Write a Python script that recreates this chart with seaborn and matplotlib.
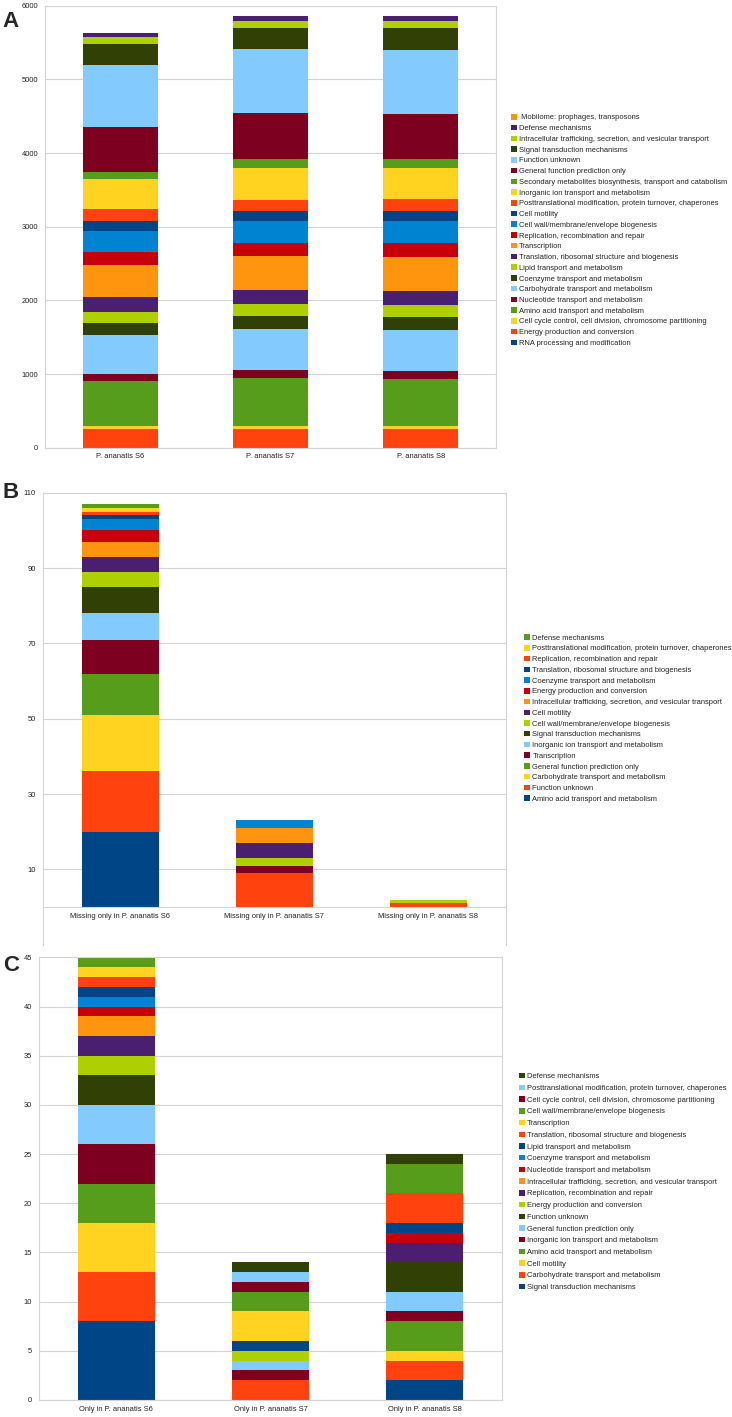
import numpy as np
import seaborn as sns
import matplotlib
import matplotlib.pyplot as plt
from matplotlib.patches import Patch

matplotlib.use('Agg')
sns.set_style("white")
plt.rcParams['font.family'] = ['Liberation Sans', 'DejaVu Sans']

# LibreOffice default chart palette
palette = ["#004586", "#ff420e", "#ffd320", "#579d1c", "#7e0021", "#83caff",
           "#314004", "#aecf00", "#4b1f6f", "#ff950e", "#c5000b", "#0084d1"]

# ---- panel A: all COG categories (bottom to top) ----
a_samples = ["P. ananatis S6", "P. ananatis S7", "P. ananatis S8"]
a_cats = ["RNA processing and modification",
          "Energy production and conversion",
          "Cell cycle control, cell division, chromosome partitioning",
          "Amino acid transport and metabolism",
          "Nucleotide transport and metabolism",
          "Carbohydrate transport and metabolism",
          "Coenzyme transport and metabolism",
          "Lipid transport and metabolism",
          "Translation, ribosomal structure and biogenesis",
          "Transcription",
          "Replication, recombination and repair",
          "Cell wall/membrane/envelope biogenesis",
          "Cell motility",
          "Posttranslational modification, protein turnover, chaperones",
          "Inorganic ion transport and metabolism",
          "Secondary metabolites biosynthesis, transport and catabolism",
          "General function prediction only",
          "Function unknown",
          "Signal transduction mechanisms",
          "Intracellular trafficking, secretion, and vesicular transport",
          "Defense mechanisms",
          " Mobilome: prophages, transposons"]
a_s6 = [1, 258, 36, 611, 100, 530, 163, 149, 195, 434, 181, 290, 135, 154, 412, 100, 601, 847, 276, 104, 56, 2]
a_s7 = [1, 258, 36, 652, 104, 561, 172, 167, 190, 457, 186, 298, 132, 154, 429, 118, 624, 869, 285, 100, 60, 2]
a_s8 = [1, 258, 36, 643, 104, 556, 172, 163, 195, 466, 185, 299, 140, 159, 416, 122, 615, 869, 294, 104, 60, 2]

# ---- panel B: missing only in one strain ----
b_samples = ["Missing only in P. ananatis S6", "Missing only in P. ananatis S7",
             "Missing only in P. ananatis S8"]
b_cats = ["Amino acid transport and metabolism",
          "Function unknown",
          "Carbohydrate transport and metabolism",
          "General function prediction only",
          "Transcription",
          "Inorganic ion transport and metabolism",
          "Signal transduction mechanisms",
          "Cell wall/membrane/envelope biogenesis",
          "Cell motility",
          "Intracellular trafficking, secretion, and vesicular transport",
          "Energy production and conversion",
          "Coenzyme transport and metabolism",
          "Translation, ribosomal structure and biogenesis",
          "Replication, recombination and repair",
          "Posttranslational modification, protein turnover, chaperones",
          "Defense mechanisms"]
b_s6 = [20, 16, 15, 11, 9, 7, 7, 4, 4, 4, 3, 3, 1, 1, 1, 1]
b_s7 = [0, 9, 0, 0, 2, 0, 0, 2, 4, 4, 0, 2, 0, 0, 0, 0]
b_s8 = [0, 1, 0, 0, 0, 0, 0, 1, 0, 0, 0, 0, 0, 0, 0, 0]

# ---- panel C: only in one strain ----
c_samples = ["Only in P. ananatis S6", "Only in P. ananatis S7", "Only in P. ananatis S8"]
c_cats = ["Signal transduction mechanisms",
          "Carbohydrate transport and metabolism",
          "Cell motility",
          "Amino acid transport and metabolism",
          "Inorganic ion transport and metabolism",
          "General function prediction only",
          "Function unknown",
          "Energy production and conversion",
          "Replication, recombination and repair",
          "Intracellular trafficking, secretion, and vesicular transport",
          "Nucleotide transport and metabolism",
          "Coenzyme transport and metabolism",
          "Lipid transport and metabolism",
          "Translation, ribosomal structure and biogenesis",
          "Transcription",
          "Cell wall/membrane/envelope biogenesis",
          "Cell cycle control, cell division, chromosome partitioning",
          "Posttranslational modification, protein turnover, chaperones",
          "Defense mechanisms"]
c_s6 = [8, 5, 5, 4, 4, 4, 3, 2, 2, 2, 1, 1, 1, 1, 1, 1, 0, 0, 0]
c_s7 = [0, 2, 0, 0, 1, 1, 0, 1, 0, 0, 0, 0, 1, 0, 3, 2, 1, 1, 1]
c_s8 = [2, 2, 1, 3, 1, 2, 3, 0, 2, 0, 1, 0, 1, 3, 0, 3, 0, 0, 1]

TXT = "#222222"
GRID = "#d4d4d4"
FS = 5.4


def stacked_panel(ax, samples, cats, cols, ylim, yticks, legend_xy, spacing):
    values = np.array(cols).T  # rows = categories
    bottoms = np.zeros(len(samples))
    handles = []
    for i, (cat, vals) in enumerate(zip(cats, values)):
        color = palette[i % len(palette)]
        sns.barplot(x=samples, y=vals, order=samples, bottom=bottoms, color=color,
                    saturation=1, width=0.5, errorbar=None, linewidth=0, ax=ax)
        bottoms = bottoms + vals
        handles.append(Patch(facecolor=color, edgecolor='none', label=cat))
    ax.set_ylim(*ylim)
    ax.set_yticks(yticks)
    ax.set_xlim(-0.5, len(samples) - 0.5)
    ax.set_axisbelow(True)
    ax.yaxis.grid(True, color=GRID, linewidth=0.8)
    ax.xaxis.grid(False)
    for s in ax.spines.values():
        s.set_color(GRID)
        s.set_linewidth(0.8)
    ax.tick_params(axis='y', labelsize=FS, colors=TXT, length=3, width=0.6, color=GRID, pad=2)
    ax.tick_params(axis='x', which='major', labelsize=FS, colors=TXT, length=0, pad=4)
    ax.set_xticks([0.5, 1.5], minor=True)
    ax.tick_params(axis='x', which='minor', length=3, width=0.6, color=GRID)
    ax.set_xlabel("")
    ax.set_ylabel("")
    leg = ax.figure.legend(handles=handles[::-1], loc='center left', bbox_to_anchor=legend_xy,
                           frameon=False, fontsize=FS, handlelength=0.75, handleheight=0.75,
                           handletextpad=0.35, labelspacing=spacing, borderaxespad=0, borderpad=0)
    for t in leg.get_texts():
        t.set_color(TXT)


fig = plt.figure(figsize=(7.32, 14.17), dpi=100)

ax_a = fig.add_axes([0.0615, 0.684, 0.616, 0.312])
stacked_panel(ax_a, a_samples, a_cats, [a_s6, a_s7, a_s8], (0, 6000),
              np.arange(0, 6001, 1000), (0.698, 0.8373), 0.45)

ax_b = fig.add_axes([0.0587, 0.3333, 0.632, 0.319])
stacked_panel(ax_b, b_samples, b_cats, [b_s6, b_s7, b_s8], (-10, 110),
              np.arange(10, 111, 20), (0.716, 0.4929), 0.45)
ax_b.spines['bottom'].set_position(('data', 0))

ax_c = fig.add_axes([0.0533, 0.012, 0.6325, 0.3124])
stacked_panel(ax_c, c_samples, c_cats, [c_s6, c_s7, c_s8], (0, 45),
              np.arange(0, 46, 5), (0.709, 0.1658), 0.58)

for letter, yy in [("A", 0.992), ("B", 0.660), ("C", 0.326)]:
    fig.text(0.004, yy, letter, fontsize=16, fontweight='bold', va='top', ha='left',
             family=['Liberation Sans', 'DejaVu Sans'])

fig.savefig("out.png", dpi=100)
plt.close(fig)
